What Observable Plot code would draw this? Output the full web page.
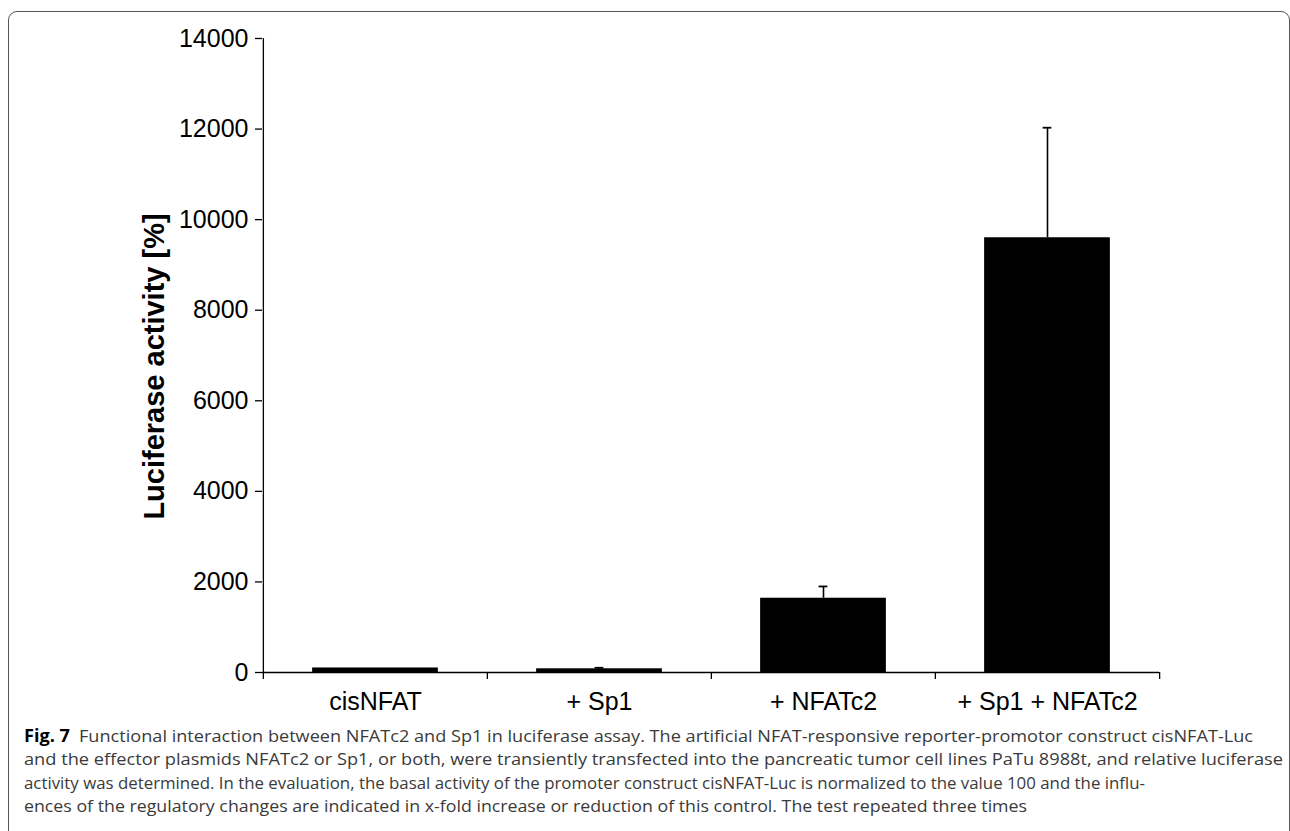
<!DOCTYPE html>
<html>
<head>
<meta charset="utf-8">
<script src="https://cdn.jsdelivr.net/npm/d3@7"></script>
<script src="https://cdn.jsdelivr.net/npm/@observablehq/plot@0.6"></script>
<style>
  html, body { margin: 0; padding: 0; background: #fff; width: 1290px; height: 831px; overflow: hidden; }
  #wrap { position: relative; width: 1290px; height: 831px; overflow: hidden; background: #fff; }
  #frame { position: absolute; left: 8px; top: 11px; width: 1282px; height: 900px; border: 1.3px solid #555; border-radius: 9px; box-sizing: border-box; }
  #chart { position: absolute; left: 0; top: 0; }
  #caption { position: absolute; left: 24px; top: 724px; font-family: "Open Sans", "Noto Sans", sans-serif; font-size: 17px; line-height: 23.4px; color: #3a3a3a; }
  #caption .line { white-space: nowrap; transform-origin: 0 0; width: max-content; }
  #caption b { color: #000; font-weight: 700; }
</style>
</head>
<body>
<div id="wrap">
  <div id="frame"></div>
  <div id="chart"></div>
  <div id="caption"></div>
</div>
<script>
// ---- data ----
const categories = ["cisNFAT", "+ Sp1", "+ NFATc2", "+ Sp1 + NFATc2"];
const means = [100, 82, 1640, 9600];
const errors = [0, 22, 260, 2430];
const yTicks = [0, 2000, 4000, 6000, 8000, 10000, 12000, 14000];
const yLabel = "Luciferase activity [%]";
const captionBold = "Fig. 7";
const captionLines = [
  "Functional interaction between NFATc2 and Sp1 in luciferase assay. The artificial NFAT-responsive reporter-promotor construct cisNFAT-Luc",
  "and the effector plasmids NFATc2 or Sp1, or both, were transiently transfected into the pancreatic tumor cell lines PaTu 8988t, and relative luciferase",
  "activity was determined. In the evaluation, the basal activity of the promoter construct cisNFAT-Luc is normalized to the value 100 and the influ-",
  "ences of the regulatory changes are indicated in x-fold increase or reduction of this control. The test repeated three times"
];

// ---- layout ----
const W = 1290, H = 720, ML = 262, MR = 131, MT = 38, MB = 48;
const bw = (W - ML - MR) / categories.length;
const barW = 126, capW = 9, tickLen = 7;

const rows = categories.map((c, i) => ({cat: c, mean: means[i], top: means[i] + errors[i]}));
const errRows = rows.filter(d => d.top > d.mean);

const chart = Plot.plot({
  width: W, height: H,
  marginLeft: ML, marginRight: MR, marginTop: MT, marginBottom: MB,
  style: {fontFamily: '"Liberation Sans", Arial, sans-serif', fontSize: "25px", color: "#000", background: "transparent"},
  x: {type: "band", domain: categories, padding: 0},
  y: {domain: [0, 14000]},
  marks: [
    Plot.barY(rows, {x: "cat", y: "mean", fill: "#000", insetLeft: (bw - barW) / 2, insetRight: (bw - barW) / 2}),
    Plot.ruleX(errRows, {x: "cat", y1: "mean", y2: "top", stroke: "#000", strokeWidth: 1.6}),
    Plot.tickY(errRows, {x: "cat", y: "top", stroke: "#000", strokeWidth: 1.8, insetLeft: (bw - capW) / 2, insetRight: (bw - capW) / 2}),
    // x axis line
    Plot.ruleY([0], {stroke: "#000", strokeWidth: 1.3}),
    // y axis line
    Plot.ruleX([categories[0]], {dx: -bw / 2, y1: 0, y2: 14000, stroke: "#000", strokeWidth: 1.3}),
    // category boundary ticks
    Plot.ruleX(categories, {x: d => d, dx: -bw / 2, y1: 0, y2: 0, insetBottom: -tickLen, stroke: "#000", strokeWidth: 1.3}),
    Plot.ruleX([categories[categories.length - 1]], {x: d => d, dx: bw / 2, y1: 0, y2: 0, insetBottom: -tickLen, stroke: "#000", strokeWidth: 1.3}),
    Plot.axisY({ticks: yTicks, tickSize: tickLen, tickPadding: 7, tickFormat: d => String(d), label: null, strokeWidth: 1.3}),
    Plot.axisX({tickSize: 0, tickPadding: 20, label: null}),
    Plot.text([yLabel], {frameAnchor: "left", rotate: -90, lineAnchor: "bottom", textAnchor: "middle", dx: -99, dy: 11, fontWeight: "bold", fontSize: 29, fill: "#000"})
  ]
});
document.getElementById("chart").appendChild(chart);

// ---- caption ----
const cap = document.getElementById("caption");
const targets = [1253, 1283, 1145, 1027];
captionLines.forEach((t, i) => {
  const div = document.createElement("div");
  div.className = "line";
  if (i === 0) {
    const b = document.createElement("b");
    b.textContent = captionBold;
    div.appendChild(b);
    div.appendChild(document.createTextNode("\u2002" + t));
  } else {
    div.textContent = t;
  }
  cap.appendChild(div);
  const w = div.getBoundingClientRect().width;
  const target = targets[i] - 24;
  div.style.transform = `scaleX(${target / w})`;
});
</script>
</body>
</html>
